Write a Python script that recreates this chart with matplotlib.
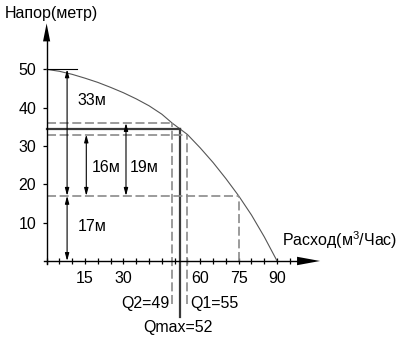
import matplotlib
matplotlib.use("Agg")
import matplotlib.pyplot as plt

plt.rcParams['font.family'] = ['Liberation Sans', 'DejaVu Sans']
plt.rcParams['lines.scale_dashes'] = False
plt.rcParams['mathtext.fontset'] = 'custom'
plt.rcParams['mathtext.rm'] = 'Liberation Sans'
plt.rcParams['mathtext.it'] = 'Liberation Sans'
plt.rcParams['mathtext.bf'] = 'Liberation Sans'

# ---- data ----
curve_q = [0, 5, 10, 15, 20, 25, 30, 35, 40, 45, 49, 52, 55, 60, 65, 70, 75, 80, 85, 90]
curve_h = [50, 49.5, 48.7, 47.7, 46.6, 45.3, 43.9, 42.3, 40.5, 38.3, 36, 34.5, 33,
           29.5, 25.7, 21.5, 17, 12, 6.3, 0]

# operating points: Q2, Qmax, Q1, and Q=75
op_q = [49, 52, 55, 75]
op_h = [36, 34.5, 33, 17]
op_labels = ['Q2=49', 'Qmax=52', 'Q1=55', '']

# head differences (dimension arrows)
dim_q = [8, 8, 15.5, 31]
dim_lo = [17, 0, 17, 17]
dim_hi = [50, 17, 33, 36]
dim_labels = ['33м', '17м', '16м', '19м']

x_major = [15, 30, 60, 75, 90]
x_minor = [0, 5, 10, 15, 20, 25, 30, 35, 40, 45, 50, 55, 60, 65, 70, 75, 80, 85, 90, 95]
y_major = [10, 20, 30, 40, 50]

y_title = 'Напор(метр)'
x_title = r'Расход(м$^{\mathrm{3}}$/Час)'

# ---- figure ----
fig = plt.figure(figsize=(4.0, 3.43), dpi=100)
ax = fig.add_axes([0, 0, 1, 1])
ax.set_xlim(-18.2, 138.0)
ax.set_ylim(-21.4, 68.1)
ax.patch.set_visible(False)

FS = 11.5
grey = '#8a8a8a'

# axes spines as coordinate axes
for s in ['top', 'right']:
    ax.spines[s].set_visible(False)
ax.spines['left'].set_position(('data', 0))
ax.spines['bottom'].set_position(('data', 0))
ax.spines['left'].set_bounds(-0.8, 57.5)
ax.spines['bottom'].set_bounds(-1.0, 98.5)
ax.spines['left'].set_linewidth(1.0)
ax.spines['bottom'].set_linewidth(1.0)

ax.set_xticks(x_major)
ax.set_xticks(x_minor, minor=True)
ax.set_yticks(y_major)
ax.tick_params(axis='x', which='both', direction='inout', length=5, width=0.9,
               labelsize=FS, pad=4.5)
ax.tick_params(axis='y', which='both', direction='out', length=3, width=0.9,
               labelsize=FS, pad=4.5)

# axis arrow heads
ax.fill([-1.4, 1.4, 0], [57.3, 57.3, 62.0], color='black', lw=0)
ax.fill([97.8, 97.8, 106.8], [-1.1, 1.1, 0], color='black', lw=0)

# axis titles
ax.text(-16.3, 64.6, y_title, fontsize=FS, ha='left', va='center')
ax.text(92.0, 5.4, x_title, fontsize=FS, ha='left', va='center')

# pump curve
ax.plot(curve_q, curve_h, color='#555555', lw=0.8)

# reference line at shutoff head
ax.plot([0, 11.9], [curve_h[0], curve_h[0]], color='black', lw=0.8)

# operating lines
dash = (0, (6.5, 2.6))
bottoms = [-11.2, -14.7, -11.2, 0]
for q, h, b, lab in zip(op_q, op_h, bottoms, op_labels):
    if lab.startswith('Qmax'):
        ax.plot([0, q], [h, h], color='#3a3a3a', lw=1.6)
        ax.plot([q, q], [b, h], color='#3a3a3a', lw=1.6)
    else:
        ax.plot([0, q], [h, h], color=grey, lw=1.2, linestyle=dash)
        ax.plot([q, q], [b, h], color=grey, lw=1.2, linestyle=dash)

ax.text(op_q[0] - 1.0, -11.0, op_labels[0], fontsize=FS, ha='right', va='center')
ax.text(op_q[1] - 0.8, -17.4, op_labels[1], fontsize=FS, ha='center', va='center')
ax.text(op_q[2] + 1.2, -11.0, op_labels[2], fontsize=FS, ha='left', va='center')

# dimension arrows
for q, lo, hi in zip(dim_q, dim_lo, dim_hi):
    ax.annotate('', xy=(q, hi), xytext=(q, lo),
                arrowprops=dict(arrowstyle='<|-|>,head_length=0.45,head_width=0.12',
                                color='black', lw=0.8, shrinkA=0, shrinkB=0))

label_pos = [(12.0, 42.0), (12.0, 8.9), (17.5, 24.3), (32.5, 24.3)]
for (x, y), lab in zip(label_pos, dim_labels):
    ax.text(x, y, lab, fontsize=FS, ha='left', va='center')

fig.savefig('out.png', dpi=100)
